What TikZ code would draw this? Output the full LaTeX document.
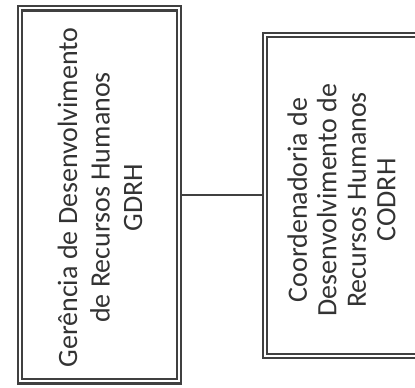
\documentclass[tikz,border=0pt]{standalone}
\usepackage{fontspec}
\setmainfont{Carlito}
\begin{document}
\begin{tikzpicture}[x=1pt,y=1pt,
  frame/.style={draw=black!75, line width=2.2pt, double=white, double distance=2pt, inner sep=0pt},
  lbl/.style={rotate=90, align=center, text=black!80, inner sep=0pt}]
\useasboundingbox (0,0) rectangle (415,388);
\clip (0,0) rectangle (415,388);
\node[frame, minimum width=159pt, minimum height=373pt] (lbox) at (99.5,193) {};
\node[frame, minimum width=205pt, minimum height=321pt] (rbox) at (367.5,192.5) {};
\node[lbl, font=\fontsize{28}{32.5}\selectfont] (ltext) at (100,190.5) {Gerência de Desenvolvimento\\de Recursos Humanos\\GDRH};
\node[lbl, font=\fontsize{28}{29.5}\selectfont] (rtext) at (341.5,188) {Coordenadoria de\\Desenvolvimento de\\Recursos Humanos\\CODRH};
\draw[black!75, line width=1.4pt] (lbox.east) -- (lbox.east -| rbox.west);
\end{tikzpicture}
\end{document}
